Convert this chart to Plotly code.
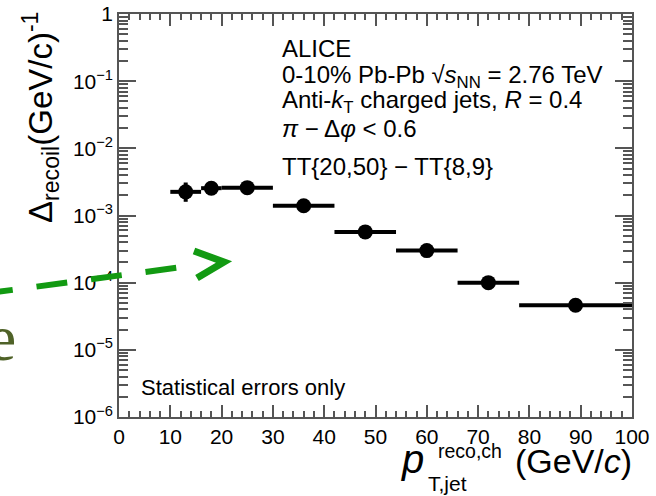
import plotly.graph_objects as go

# ---------------- data ----------------
pt_jet = [13, 18, 25, 36, 48, 60, 72, 89]
delta_recoil = [2.25e-3, 2.55e-3, 2.6e-3, 1.4e-3, 5.7e-4, 3.0e-4, 1.0e-4, 4.6e-5]
bin_lo = [3, 2, 5, 6, 6, 6, 6, 11]
bin_hi = [3, 2, 5, 6, 6, 6, 6, 11]
err_hi = [0.85e-3, 0.25e-3, 0.2e-3, 0.1e-3, 0.04e-3, 0.02e-3, 0.8e-5, 0.4e-5]
err_lo = [0.65e-3, 0.25e-3, 0.2e-3, 0.1e-3, 0.04e-3, 0.02e-3, 0.8e-5, 0.4e-5]

x_tickvals = [0, 10, 20, 30, 40, 50, 60, 70, 80, 90, 100]
x_ticktext = ["0", "10", "20", "30", "40", "50", "60", "70", "80", "90", "100"]
y_tickvals = [1, 1e-1, 1e-2, 1e-3, 1e-4, 1e-5, 1e-6]
y_ticktext = ["1", "10<sup>−1</sup>", "10<sup>−2</sup>", "10<sup>−3</sup>",
              "10<sup>−4</sup>", "10<sup>−5</sup>", "10<sup>−6</sup>"]

# ---------------- layout helpers ----------------
W, H = 656, 496
L, R, T, B = 119, 632, 14, 417
def px(x):
    return (x - L) / (R - L)
def py(y):
    return (B - y) / (B - T)

FONT = "Liberation Sans, Arial, Helvetica, sans-serif"
AXC = "#555555"
GREEN = "#129a12"

fig = go.Figure()
fig.add_trace(go.Scatter(
    x=pt_jet, y=delta_recoil, mode="markers",
    marker=dict(color="black", size=15, symbol="circle"),
    error_x=dict(type="data", symmetric=False, array=bin_hi, arrayminus=bin_lo,
                 color="black", thickness=4, width=0),
    error_y=dict(type="data", symmetric=False, array=err_hi, arrayminus=err_lo,
                 color="black", thickness=4, width=0),
    cliponaxis=True, showlegend=False,
))

fig.update_xaxes(
    range=[0, 100], tickvals=x_tickvals, ticktext=x_ticktext, automargin=False,
    ticks="inside", ticklen=12, tickwidth=1.5, tickcolor=AXC,
    showline=True, linecolor=AXC, linewidth=1.5, mirror="allticks",
    showgrid=False, zeroline=False,
    minor=dict(ticks="inside", dtick=2, ticklen=6, tickwidth=1.5, tickcolor=AXC, showgrid=False),
    tickfont=dict(family=FONT, size=21, color="black"),
)
fig.update_yaxes(
    type="log", range=[-6, 0], tickvals=y_tickvals, ticktext=y_ticktext, automargin=False,
    ticks="inside", ticklen=17, tickwidth=1.5, tickcolor=AXC,
    showline=True, linecolor=AXC, linewidth=1.5, mirror="allticks",
    showgrid=False, zeroline=False,
    minor=dict(ticks="inside", dtick="D1", ticklen=9, tickwidth=1.5, tickcolor=AXC, showgrid=False),
    tickfont=dict(family=FONT, size=21, color="black"),
)

ann = []
def text(x, y, s, size, xanchor="left", yanchor="middle", color="black", family=FONT, angle=0):
    ann.append(dict(x=px(x), y=py(y), xref="paper", yref="paper", text=s, showarrow=False,
                    xanchor=xanchor, yanchor=yanchor, textangle=angle, borderpad=0,
                    font=dict(family=family, size=size, color=color)))

# info block
text(281, 48, "ALICE", 24)
text(281, 76, "0-10% Pb-Pb √<i>s</i><sub>NN</sub> = 2.76 TeV", 24)
text(281, 102, "Anti-<i>k</i><sub>T</sub> charged jets, <i>R</i> = 0.4", 24)
text(281, 128, "<i>π</i> − Δ<i>φ</i> &lt; 0.6", 24)
text(281, 166, "TT{20,50} − TT{8,9}", 24)
text(140, 387, "Statistical errors only", 22)

# axis titles
text(40, 118, "Δ<sub>recoil</sub>(GeV/c)<sup>-1</sup>", 33, xanchor="center", angle=-90)
text(400, 459, "<i>p</i>", 40)
text(437, 451, "reco,ch", 19.5)
text(427, 483, "T,jet", 21)
text(633, 461, "(GeV/<i>c</i>)", 34, xanchor="right")

# overlay "e"
text(17, 337, "e", 66, xanchor="right", color="#4f6228",
     family="Liberation Serif, Times New Roman, serif")

fig.update_layout(annotations=ann)

# green dashed arrow overlay
shapes = [
    dict(type="line", xref="paper", yref="paper",
         x0=px(-18), y0=py(294), x1=px(182), y1=py(267),
         line=dict(color=GREEN, width=6, dash="31px,24px")),
    dict(type="path", xref="paper", yref="paper",
         path=f"M {px(194)},{py(251)} L {px(224)},{py(262)} L {px(197)},{py(278)}",
         line=dict(color=GREEN, width=7)),
]
fig.update_layout(shapes=shapes)

fig.update_layout(
    width=W, height=H, autosize=False,
    margin=dict(l=L, r=W - R, t=T, b=H - B, autoexpand=False),
    paper_bgcolor="white", plot_bgcolor="white",
    font=dict(family=FONT, color="black"),
)

fig.write_html("out.html")
